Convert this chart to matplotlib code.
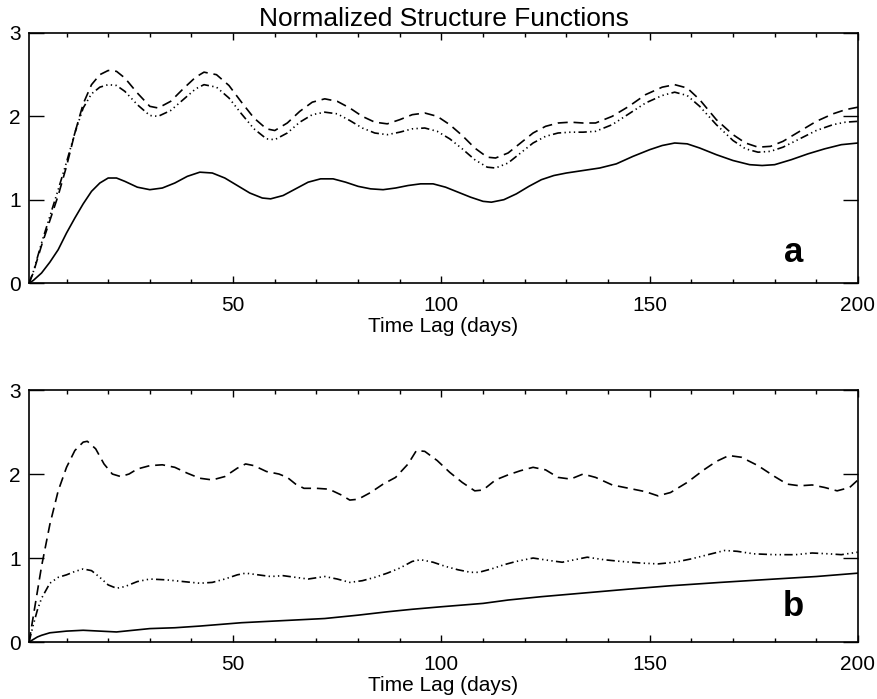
import matplotlib.pyplot as plt
from matplotlib.ticker import MultipleLocator

plt.rcParams['font.family'] = ['Liberation Sans', 'DejaVu Sans']

# panel a: time lag (days) and normalized structure functions
lag_a_solid = [1, 2, 4, 6, 8, 10, 12, 14, 16, 18, 20, 22, 24, 27, 30, 33, 36, 39, 42, 45,
               48, 51, 54, 57, 59, 62, 65, 68, 71, 74, 77, 80, 83, 86, 89, 92, 95, 98,
               101, 104, 107, 110, 112, 115, 118, 121, 124, 127, 130, 134, 138, 142, 146,
               150, 153, 156, 159, 162, 166, 170, 174, 177, 180, 184, 188, 192, 196, 200]
a_solid = [0, 0.03, 0.12, 0.25, 0.4, 0.6, 0.78, 0.95, 1.1, 1.2, 1.26, 1.26, 1.22, 1.15,
           1.12, 1.14, 1.2, 1.28, 1.33, 1.32, 1.26, 1.17, 1.08, 1.02, 1.01, 1.05, 1.13,
           1.21, 1.25, 1.25, 1.21, 1.16, 1.13, 1.12, 1.14, 1.17, 1.19, 1.19, 1.15, 1.09,
           1.03, 0.98, 0.97, 1.0, 1.07, 1.16, 1.24, 1.29, 1.32, 1.35, 1.38, 1.43, 1.52,
           1.6, 1.65, 1.68, 1.67, 1.62, 1.54, 1.47, 1.42, 1.41, 1.42, 1.48, 1.55, 1.61,
           1.66, 1.68]

lag_a = [1, 2, 4, 6, 8, 10, 12, 14, 16, 18, 20, 22, 24, 27, 30, 32, 35, 38, 41, 43, 46,
         49, 52, 55, 58, 60, 63, 66, 69, 72, 75, 78, 81, 84, 87, 90, 93, 96, 99, 102, 105,
         108, 111, 113, 116, 119, 122, 125, 128, 131, 134, 137, 141, 145, 149, 153, 156,
         159, 162, 166, 170, 173, 176, 179, 182, 186, 190, 194, 197, 200]
a_dashed = [0, 0.12, 0.45, 0.75, 1.05, 1.4, 1.8, 2.15, 2.38, 2.5, 2.55, 2.54, 2.46, 2.28,
            2.12, 2.1, 2.18, 2.33, 2.47, 2.53, 2.5, 2.37, 2.17, 1.98, 1.85, 1.83, 1.92,
            2.06, 2.17, 2.21, 2.18, 2.1, 2.0, 1.93, 1.91, 1.96, 2.02, 2.04, 2.0, 1.9,
            1.77, 1.62, 1.51, 1.5, 1.56, 1.68, 1.8, 1.88, 1.92, 1.93, 1.92, 1.92, 2.0,
            2.12, 2.26, 2.35, 2.38, 2.34, 2.2, 1.96, 1.78, 1.68, 1.63, 1.64, 1.7, 1.82,
            1.94, 2.03, 2.08, 2.11]
a_dashdot = [0, 0.13, 0.48, 0.8, 1.12, 1.45, 1.8, 2.1, 2.27, 2.35, 2.38, 2.37, 2.3, 2.14,
             2.01, 2.0, 2.07, 2.2, 2.33, 2.38, 2.35, 2.22, 2.03, 1.85, 1.73, 1.72, 1.8,
             1.93, 2.02, 2.05, 2.03, 1.95, 1.86, 1.8, 1.78, 1.81, 1.85, 1.86, 1.82, 1.73,
             1.61, 1.48, 1.39, 1.38, 1.44, 1.56, 1.68, 1.76, 1.8, 1.81, 1.81, 1.82, 1.9,
             2.03, 2.16, 2.25, 2.29, 2.25, 2.12, 1.9, 1.71, 1.61, 1.57, 1.58, 1.63, 1.73,
             1.83, 1.9, 1.93, 1.94]

# panel b
lag_b_dashed = [1, 2, 3, 4, 5, 6, 8, 10, 12, 14, 15, 17, 19, 21, 23, 25, 27, 30, 33, 36,
                39, 42, 45, 48, 51, 53, 55, 58, 61, 63, 65, 67, 70, 73, 76, 78, 80, 83,
                86, 89, 92, 94, 96, 99, 102, 105, 108, 110, 113, 116, 119, 122, 125, 128,
                131, 134, 137, 141, 145, 149, 152, 155, 159, 163, 166, 169, 172, 176, 180,
                183, 186, 189, 192, 195, 198, 200]
b_dashed = [0, 0.3, 0.6, 0.9, 1.15, 1.4, 1.8, 2.08, 2.28, 2.38, 2.39, 2.3, 2.12, 2.0,
            1.97, 2.0, 2.06, 2.1, 2.11, 2.08, 2.01, 1.95, 1.93, 1.97, 2.07, 2.12, 2.1,
            2.03, 2.0, 1.96, 1.88, 1.83, 1.83, 1.82, 1.75, 1.69, 1.7, 1.78, 1.88, 1.96,
            2.12, 2.28, 2.27, 2.16, 2.02, 1.9, 1.8, 1.81, 1.93, 1.99, 2.04, 2.08, 2.05,
            1.96, 1.94, 2.0, 1.96, 1.87, 1.83, 1.79, 1.74, 1.78, 1.9, 2.05, 2.15, 2.22,
            2.2, 2.1, 1.97, 1.88, 1.86, 1.87, 1.84, 1.8, 1.84, 1.93]
lag_b_dashdot = [1, 2, 3, 4, 6, 8, 10, 12, 14, 16, 18, 20, 22, 24, 27, 30, 34, 38, 42, 45,
                 48, 51, 53, 56, 59, 62, 65, 68, 72, 75, 78, 81, 84, 87, 90, 93, 95, 98,
                 101, 104, 107, 109, 112, 115, 118, 122, 126, 129, 132, 135, 139, 143,
                 148, 152, 156, 160, 164, 168, 171, 175, 180, 185, 189, 193, 196, 200]
b_dashdot = [0, 0.2, 0.38, 0.52, 0.7, 0.77, 0.8, 0.84, 0.87, 0.85, 0.77, 0.68, 0.64, 0.66,
             0.72, 0.75, 0.74, 0.72, 0.7, 0.71, 0.75, 0.8, 0.82, 0.8, 0.78, 0.79, 0.77,
             0.75, 0.78, 0.75, 0.71, 0.73, 0.77, 0.82, 0.88, 0.96, 0.98, 0.95, 0.9, 0.86,
             0.83, 0.83, 0.87, 0.92, 0.96, 1.0, 0.97, 0.95, 0.98, 1.01, 0.98, 0.96, 0.94,
             0.93, 0.95, 0.99, 1.04, 1.09, 1.08, 1.05, 1.04, 1.04, 1.06, 1.05, 1.04, 1.07]
lag_b_solid = [1, 2, 3, 4, 6, 8, 10, 14, 18, 22, 26, 30, 36, 42, 52, 64, 72, 80, 87, 93,
               100, 110, 116, 124, 138, 145, 155, 167, 180, 190, 200]
b_solid = [0, 0.03, 0.06, 0.08, 0.11, 0.12, 0.13, 0.14, 0.13, 0.12, 0.14, 0.16, 0.17,
           0.19, 0.23, 0.26, 0.28, 0.32, 0.36, 0.39, 0.42, 0.46, 0.5, 0.54, 0.6, 0.63,
           0.67, 0.71, 0.75, 0.78, 0.82]

dash = (0, (6, 3.5))
dashdot3 = (0, (5, 2, 0.8, 2, 0.8, 2, 0.8, 2))

fig = plt.figure(figsize=(8.77, 6.99), dpi=100)
ax1 = fig.add_axes([0.0331, 0.5951, 0.9452, 0.3577])
ax2 = fig.add_axes([0.0331, 0.0815, 0.9452, 0.3605])

ax1.plot(lag_a_solid, a_solid, color='black', lw=1.2)
ax1.plot(lag_a, a_dashed, color='black', lw=1.2, linestyle=dash)
ax1.plot(lag_a, a_dashdot, color='black', lw=1.2, linestyle=dashdot3)

ax2.plot(lag_b_solid, b_solid, color='black', lw=1.2)
ax2.plot(lag_b_dashed, b_dashed, color='black', lw=1.2, linestyle=dash)
ax2.plot(lag_b_dashdot, b_dashdot, color='black', lw=1.2, linestyle=dashdot3)

for ax, lab, ly in [(ax1, 'a', 0.37), (ax2, 'b', 0.42)]:
    ax.set_xlim(1, 200)
    ax.set_ylim(0, 3)
    ax.xaxis.set_major_locator(MultipleLocator(50))
    ax.xaxis.set_minor_locator(MultipleLocator(10))
    ax.yaxis.set_major_locator(MultipleLocator(1))
    ax.tick_params(axis='both', which='both', direction='in', top=True, right=True,
                   labelsize=15, width=1)
    ax.tick_params(axis='x', which='major', length=5, pad=9)
    ax.tick_params(axis='x', which='minor', length=3)
    ax.tick_params(axis='y', which='major', length=11, pad=6)
    ax.set_xlabel('Time Lag (days)', fontsize=15, labelpad=2)
    for s in ax.spines.values():
        s.set_linewidth(1.2)
    ax.text(184.5, ly, lab, fontsize=25, fontweight='bold', ha='center', va='center')

ax1.set_title('Normalized Structure Functions', fontsize=19, pad=5)

fig.savefig('out.png', dpi=100)
